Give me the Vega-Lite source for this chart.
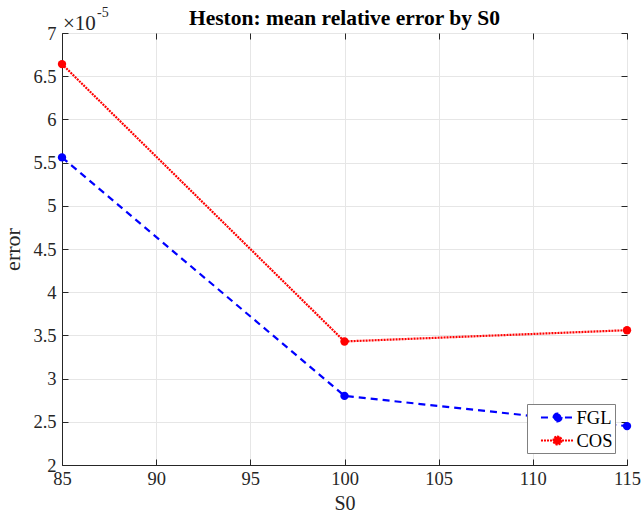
{
  "$schema": "https://vega.github.io/schema/vega-lite/v6.json",
  "autosize": "none",
  "width": 565,
  "height": 432,
  "padding": {"left": 62, "top": 33, "right": 15, "bottom": 56},
  "background": "white",
  "config": {
    "font": "Liberation Serif",
    "view": {"stroke": "#262626", "strokeWidth": 1},
    "axis": {
      "labelFont": "Liberation Serif",
      "titleFont": "Liberation Serif",
      "labelFontSize": 18.5,
      "labelColor": "#262626",
      "titleColor": "#262626",
      "titleFontWeight": "normal",
      "domainColor": "#262626",
      "tickColor": "#262626",
      "gridColor": "#e6e6e6",
      "gridWidth": 1,
      "tickSize": -6,
      "labelPadding": 12,
      "labelFlush": false
    }
  },
  "title": {
    "text": "Heston: mean relative error by S0",
    "font": "Liberation Serif",
    "fontSize": 21.5,
    "fontWeight": "bold",
    "color": "#000000",
    "offset": 0,
    "dy": 23
  },
  "data": {
    "values": [
      {"S0": 85, "error": 0.0000556, "method": "FGL"},
      {"S0": 100, "error": 0.0000280, "method": "FGL"},
      {"S0": 115, "error": 0.0000245, "method": "FGL"},
      {"S0": 85, "error": 0.0000664, "method": "COS"},
      {"S0": 100, "error": 0.0000343, "method": "COS"},
      {"S0": 115, "error": 0.0000356, "method": "COS"}
    ]
  },
  "resolve": {"axis": {"x": "independent", "y": "independent"}},
  "layer": [
    {
      "mark": {"type": "line", "strokeWidth": 2.2},
      "encoding": {
        "x": {
          "field": "S0", "type": "quantitative",
          "scale": {"domain": [85, 115], "nice": false, "zero": false},
          "axis": {"orient": "bottom", "values": [85, 90, 95, 100, 105, 110, 115], "title": "S0", "titleFontSize": 20, "titlePadding": 6, "labelPadding": 10}
        },
        "y": {
          "field": "error", "type": "quantitative",
          "scale": {"domain": [0.00002, 0.00007], "nice": false, "zero": false},
          "axis": {
            "orient": "left",
            "values": [0.00002, 0.000025, 0.00003, 0.000035, 0.00004, 0.000045, 0.00005, 0.000055, 0.00006, 0.000065, 0.00007],
            "labelExpr": "format(datum.value * 100000, '~g')",
            "title": "error", "titleFontSize": 22, "titlePadding": 8
          }
        },
        "color": {
          "field": "method", "type": "nominal",
          "scale": {"domain": ["FGL", "COS"], "range": ["#0000ff", "#ff0000"]},
          "legend": {
            "title": null,
            "orient": "bottom-right",
            "offset": 12,
            "symbolType": "M-1.74,0H1.74M0.42,0A0.42,0.42,0,1,1,-0.42,0A0.42,0.42,0,1,1,0.42,0Z",
            "symbolSize": 361,
            "symbolOffset": 17,
            "labelOffset": 8,
            "symbolStrokeWidth": 2.2,
            "labelFont": "Liberation Serif",
            "labelFontSize": 18.5,
            "labelColor": "#000000",
            "strokeColor": "#808080",
            "fillColor": "white",
            "padding": 2.5,
            "rowPadding": 2,
            "encode": {"symbols": {"update": {"fill": {"scale": "color", "field": "value"}}}}
          }
        },
        "strokeDash": {
          "field": "method", "type": "nominal",
          "scale": {"domain": ["FGL", "COS"], "range": [[7, 5], [2, 1]]},
          "legend": null
        }
      }
    },
    {
      "mark": {"type": "point", "filled": true, "size": 70, "opacity": 1, "clip": false},
      "encoding": {
        "x": {"field": "S0", "type": "quantitative", "axis": null},
        "y": {"field": "error", "type": "quantitative", "axis": null},
        "color": {"field": "method", "type": "nominal", "legend": null}
      }
    },
    {
      "data": {"values": [{"S0": 85, "error": 0.00007, "label": "×10"}]},
      "mark": {"type": "text", "align": "left", "baseline": "alphabetic", "dx": 1, "dy": -3, "fontSize": 21, "font": "Liberation Serif", "color": "#262626"},
      "encoding": {
        "x": {"field": "S0", "type": "quantitative", "axis": {"orient": "top", "values": [85, 90, 95, 100, 105, 110, 115], "labels": false, "grid": false, "title": null, "domain": false}},
        "y": {"field": "error", "type": "quantitative", "axis": {"orient": "right", "values": [0.00002, 0.000025, 0.00003, 0.000035, 0.00004, 0.000045, 0.00005, 0.000055, 0.00006, 0.000065, 0.00007], "labels": false, "grid": false, "title": null, "domain": false}},
        "text": {"field": "label"}
      }
    },
    {
      "data": {"values": [{"S0": 85, "error": 0.00007, "label": "-5"}]},
      "mark": {"type": "text", "align": "left", "baseline": "alphabetic", "dx": 35, "dy": -16, "fontSize": 14, "font": "Liberation Serif", "color": "#262626"},
      "encoding": {
        "x": {"field": "S0", "type": "quantitative", "axis": null},
        "y": {"field": "error", "type": "quantitative", "axis": null},
        "text": {"field": "label"}
      }
    }
  ]
}
